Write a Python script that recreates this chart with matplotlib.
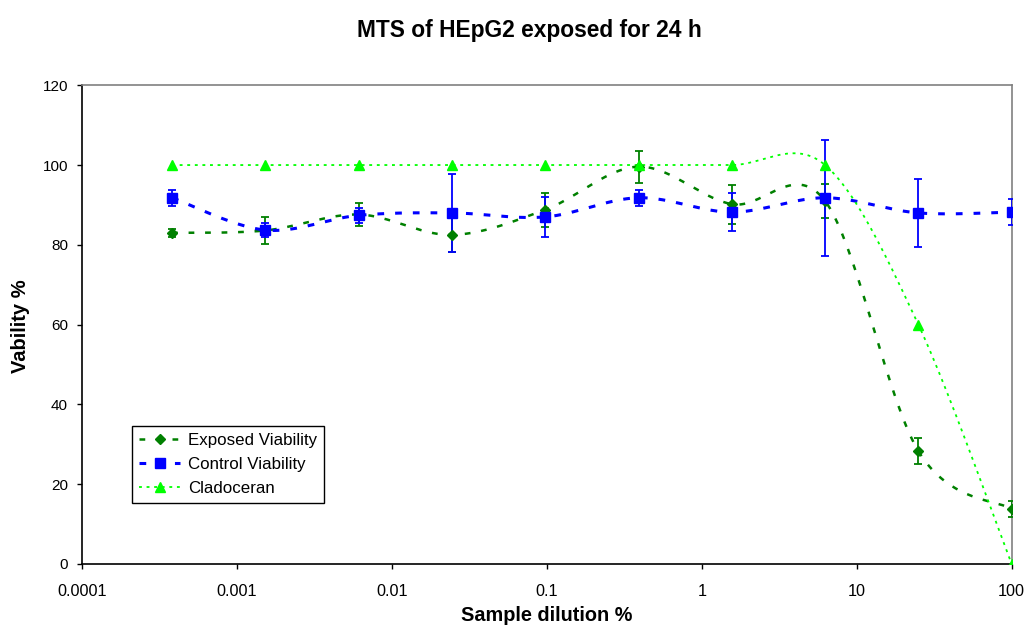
import numpy as np
import matplotlib
matplotlib.use('Agg')
from matplotlib import pyplot
from matplotlib.lines import Line2D
from matplotlib.ticker import FixedLocator, FixedFormatter, NullLocator

pyplot.rcParams['font.family'] = ['Liberation Sans', 'DejaVu Sans']

# sample dilution series (%), fourfold steps
dilution = [0.000381, 0.001526, 0.006104, 0.024414, 0.097656,
            0.390625, 1.5625, 6.25, 25, 100]

exposed = [83.0, 83.6, 87.6, 82.5, 88.8, 99.6, 90.2, 91.0, 28.3, 13.8]
exposed_err = [1.0, 3.3, 3.0, 4.2, 4.3, 4.0, 4.9, 4.3, 3.3, 1.9]

control = [91.8, 83.7, 87.4, 88.0, 87.0, 91.8, 88.2, 91.8, 88.0, 88.2]
control_err = [2.0, 1.7, 1.8, 9.7, 5.0, 2.0, 4.8, 14.6, 8.5, 3.3]

cladoceran = [100, 100, 100, 100, 100, 100, 100, 100, 60, 0]

xticks = [0.0001, 0.001, 0.01, 0.1, 1, 10, 100]
xticklabels = ['0.0001', '0.001', '0.01', '0.1', '1', '10', '100']
yticks = [0, 20, 40, 60, 80, 100, 120]


def smooth(x, y, n=40):
    # spreadsheet-style smoothed line: cubic bezier through each point,
    # control points from neighbours, worked out in log-x space
    lx = np.log10(x)
    y = np.asarray(y, dtype=float)
    pts = np.column_stack([lx, y])
    pts_ext = np.vstack([pts[0], pts, pts[-1]])
    t = np.linspace(0, 1, n)[:, None]
    out = []
    for i in range(len(pts) - 1):
        p0, p1, p2, p3 = pts_ext[i], pts_ext[i + 1], pts_ext[i + 2], pts_ext[i + 3]
        c1 = p1 + (p2 - p0) / 6.0
        c2 = p2 - (p3 - p1) / 6.0
        seg = ((1 - t) ** 3) * p1 + 3 * ((1 - t) ** 2) * t * c1 + 3 * (1 - t) * t ** 2 * c2 + t ** 3 * p2
        out.append(seg if i == 0 else seg[1:])
    out = np.vstack(out)
    return 10 ** out[:, 0], out[:, 1]


fig = pyplot.figure(figsize=(10.26, 6.27), dpi=100)
ax = fig.add_axes([0.080, 0.1005, 0.906, 0.7635])

dark_green = '#008000'
blue = '#0000ff'
lime = '#00ff00'

series = [
    ('Exposed Viability', exposed, exposed_err, dark_green, 'D', 5.5, 1.8, (2.3, 4.3)),
    ('Control Viability', control, control_err, blue, 's', 6.5, 2.2, (2.2, 3.6)),
    ('Cladoceran', cladoceran, None, lime, '^', 7, 1.3, (1.6, 2.6)),
]

handles = []
for name, vals, err, col, mk, ms, lw, dashes in series:
    sx, sy = smooth(dilution, vals)
    ax.plot(sx, sy, color=col, lw=lw, dashes=dashes, zorder=2)
    if err is not None:
        ax.errorbar(dilution, vals, yerr=err, fmt='none', ecolor=col,
                    elinewidth=1.3, capsize=3, capthick=1.3, zorder=3)
    ax.plot(dilution, vals, linestyle='none', marker=mk, markersize=ms,
            color=col, markeredgecolor=col, zorder=4)
    handles.append(Line2D([], [], color=col, lw=lw, dashes=dashes,
                          marker=mk, markersize=ms, markeredgecolor=col))

ax.set_xscale('log')
ax.set_xlim(0.0001, 100)
ax.set_ylim(0, 120)
ax.xaxis.set_major_locator(FixedLocator(xticks))
ax.xaxis.set_major_formatter(FixedFormatter(xticklabels))
ax.xaxis.set_minor_locator(NullLocator())
ax.set_yticks(yticks)
ax.tick_params(axis='both', direction='out', length=3.6, width=1, color='black')
ax.tick_params(axis='x', labelsize=11.7, pad=11)
ax.tick_params(axis='y', labelsize=11, pad=6.5)

ax.spines['left'].set_color('black')
ax.spines['bottom'].set_color('black')
ax.spines['top'].set_color('#808080')
ax.spines['right'].set_color('#808080')
for s in ax.spines.values():
    s.set_linewidth(1.2)

fig.text(0.533, 6 / 627, 'Sample dilution %', ha='center', va='baseline',
         fontsize=14.3, fontweight='bold')
fig.text(21 / 1026, 1 - 326 / 627, 'Vability %', ha='center', va='center',
         rotation=90, fontsize=14.5, fontweight='bold')
fig.text(0.5156, 1 - 37 / 627, 'MTS of HEpG2 exposed for 24 h', ha='center',
         va='baseline', fontsize=16.4, fontweight='bold')

leg = ax.legend(handles, [s[0] for s in series], loc='lower left',
                bbox_to_anchor=(0.054, 0.127), fontsize=12.2, handlelength=2.4,
                fancybox=False, framealpha=1, edgecolor='black',
                borderpad=0.42, labelspacing=0.54, handletextpad=0.45,
                borderaxespad=0)
leg.get_frame().set_linewidth(1.0)

fig.savefig('out.png', dpi=100)
